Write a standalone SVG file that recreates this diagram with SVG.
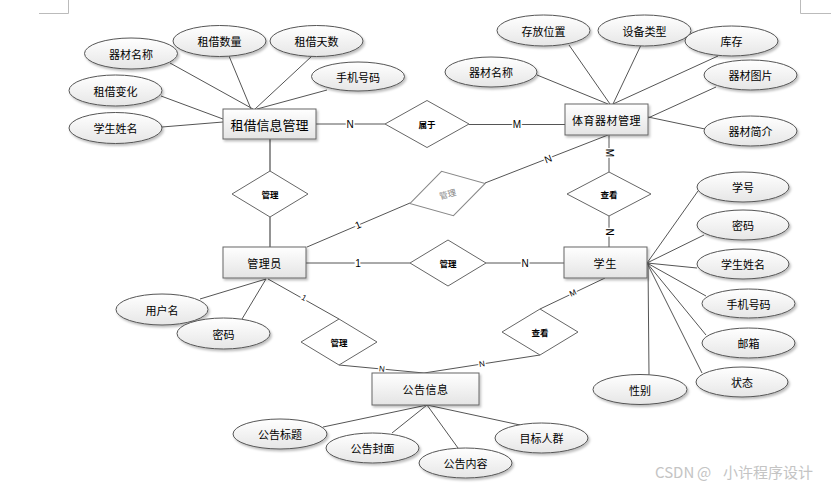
<svg xmlns="http://www.w3.org/2000/svg" width="831" height="487" viewBox="0 0 831 487">
<defs>
<linearGradient id="gRect" x1="0" y1="0" x2="0" y2="1"><stop offset="0" stop-color="#ffffff"/><stop offset="1" stop-color="#e4e4e4"/></linearGradient>
<linearGradient id="gEll" x1="0" y1="0" x2="0" y2="1"><stop offset="0" stop-color="#ffffff"/><stop offset="1" stop-color="#e6e6e6"/></linearGradient>
<filter id="sh" x="-20%" y="-30%" width="140%" height="170%"><feDropShadow dx="1.5" dy="2" stdDeviation="1" flood-color="#000" flood-opacity="0.25"/></filter>
</defs>
<style>
text{font-family:"Noto Sans CJK SC","Liberation Sans",sans-serif;dominant-baseline:central;text-anchor:middle;fill:#000}
.ent rect{fill:url(#gRect);stroke:#666;stroke-width:1;filter:url(#sh)}
.ent text{font-size:11px}
.att ellipse{fill:url(#gEll);stroke:#555;stroke-width:1;filter:url(#sh)}
.att text{font-size:11px}
.rel polygon{fill:#fff;stroke:#666;stroke-width:1}
.rel text{font-size:8.5px;font-weight:bold}
.ln line{stroke:#555;stroke-width:1}
.ln line.thick{stroke:#888;stroke-width:1.8}
.lbl{font-family:"Liberation Sans",sans-serif;font-size:10px;stroke:#fff;stroke-width:3;paint-order:stroke;fill:#000}
.corner{stroke:#bbb;stroke-width:1;fill:none}
</style>
<rect width="831" height="487" fill="#fff"/>
<path class="corner" d="M68.5,0 V13.5 H39"/>
<path class="corner" d="M800.5,0 V13.5 H831"/>
<g id="connectors" class="ln">
<line x1="170" y1="63" x2="253" y2="109"/>
<line x1="229" y1="56" x2="251" y2="109"/>
<line x1="312" y1="56" x2="255" y2="109"/>
<line x1="327" y1="90" x2="257" y2="109"/>
<line x1="161" y1="96" x2="223" y2="119"/>
<line x1="162" y1="127" x2="223" y2="122"/>
<line x1="537" y1="75" x2="608" y2="104"/>
<line x1="569" y1="45" x2="610" y2="104"/>
<line x1="641" y1="45" x2="613" y2="104"/>
<line x1="718" y1="56" x2="613" y2="104"/>
<line x1="716" y1="87" x2="648" y2="118"/>
<line x1="705" y1="129" x2="648" y2="117"/>
<line x1="316" y1="124" x2="385" y2="124"/>
<line x1="469" y1="124.5" x2="565" y2="124.5"/>
<line class="thick" x1="270" y1="139" x2="270" y2="171"/>
<line class="thick" x1="270" y1="217" x2="270" y2="247"/>
<line x1="307" y1="247" x2="410" y2="203"/>
<line x1="485" y1="183" x2="608" y2="135"/>
<line x1="306" y1="263" x2="410" y2="263"/>
<line x1="486" y1="263" x2="564" y2="263"/>
<line x1="609" y1="135" x2="609" y2="172"/>
<line x1="609" y1="216" x2="609" y2="247"/>
<line x1="268" y1="279" x2="339" y2="319"/>
<line x1="339" y1="365" x2="424" y2="373"/>
<line x1="605" y1="278" x2="540" y2="309"/>
<line x1="540" y1="355" x2="424" y2="373"/>
<line x1="200" y1="299" x2="266" y2="279"/>
<line x1="242" y1="319" x2="266" y2="279"/>
<line x1="647" y1="263" x2="698" y2="191"/>
<line x1="647" y1="263" x2="704" y2="235"/>
<line x1="647" y1="263" x2="697" y2="268"/>
<line x1="647" y1="263" x2="706" y2="296"/>
<line x1="647" y1="263" x2="706" y2="335"/>
<line x1="647" y1="263" x2="702" y2="373"/>
<line x1="648" y1="263" x2="649" y2="375"/>
<line x1="427" y1="405" x2="323" y2="427"/>
<line x1="427" y1="405" x2="392" y2="433"/>
<line x1="427" y1="405" x2="458" y2="448"/>
<line x1="427" y1="405" x2="520" y2="425"/>
<text class="lbl" x="350" y="124">N</text>
<text class="lbl" x="517" y="124.5">M</text>
<text class="lbl" transform="translate(358,225) rotate(-23)">1</text>
<text class="lbl" transform="translate(548,159) rotate(-21)">N</text>
<text class="lbl" x="358" y="263">1</text>
<text class="lbl" x="525" y="263">N</text>
<text class="lbl" transform="translate(609,153) rotate(90)">M</text>
<text class="lbl" transform="translate(609,232) rotate(90)">N</text>
<text class="lbl" style="font-size:8px" transform="translate(304,298) rotate(29)">1</text>
<text class="lbl" style="font-size:8px" transform="translate(382,369) rotate(6)">N</text>
<text class="lbl" style="font-size:8px" transform="translate(573,293) rotate(-25)">M</text>
<text class="lbl" style="font-size:8px" transform="translate(482,364) rotate(-9)">N</text>
</g>
<g id="rel-shuyu" class="rel"><polygon points="385,124 427,100.5 469,124 427,147.5"/><text x="427" y="124">属于</text></g>
<g id="rel-guanli1" class="rel"><polygon points="232,194 270,171 308,194 270,217"/><text x="270" y="194">管理</text></g>
<g id="rel-guanli2" class="rel" transform="translate(447.5,193.5) rotate(-15)"><polygon points="-39,0 0,-23 39,0 0,23" style="stroke:#888"/><text x="0" y="0" style="fill:#888;font-weight:normal">管理</text></g>
<g id="rel-guanli3" class="rel"><polygon points="410,263 448,240 486,263 448,286"/><text x="448" y="263">管理</text></g>
<g id="rel-chakan1" class="rel"><polygon points="567,194 609,172 651,194 609,216"/><text x="609" y="194">查看</text></g>
<g id="rel-guanli4" class="rel"><polygon points="301,342 339,319 377,342 339,365"/><text x="339" y="342">管理</text></g>
<g id="rel-chakan2" class="rel"><polygon points="502,332 540,309 578,332 540,355"/><text x="540" y="332">查看</text></g>
<g id="ent-zujie" class="ent"><rect x="223" y="109" width="93" height="30"/><text x="269.5" y="124" style="font-size:13px">租借信息管理</text></g>
<g id="ent-qicai" class="ent"><rect x="565" y="104" width="83" height="31"/><text x="606.5" y="119.5" style="letter-spacing:0.5px">体育器材管理</text></g>
<g id="ent-admin" class="ent"><rect x="223" y="247" width="83" height="31"/><text x="264.5" y="262.5" style="letter-spacing:0.5px">管理员</text></g>
<g id="ent-student" class="ent"><rect x="564" y="247" width="83" height="31"/><text x="605.5" y="262.5" style="letter-spacing:1px">学生</text></g>
<g id="ent-notice" class="ent"><rect x="372" y="373" width="107" height="32"/><text x="425.5" y="389" style="letter-spacing:0.5px">公告信息</text></g>
<g id="a1" class="att"><ellipse cx="131" cy="53.5" rx="46.5" ry="15.5"/><text x="131" y="53.5">器材名称</text></g>
<g id="a2" class="att"><ellipse cx="219.5" cy="41" rx="46.5" ry="15.5"/><text x="219.5" y="41">租借数量</text></g>
<g id="a3" class="att"><ellipse cx="316.5" cy="41" rx="46.5" ry="15.5"/><text x="316.5" y="41">租借天数</text></g>
<g id="a4" class="att"><ellipse cx="358" cy="76.5" rx="46.5" ry="14.5"/><text x="358" y="76.5">手机号码</text></g>
<g id="a5" class="att"><ellipse cx="115.5" cy="90.5" rx="46.5" ry="15.5"/><text x="115.5" y="90.5">租借变化</text></g>
<g id="a6" class="att"><ellipse cx="115.5" cy="128" rx="46.5" ry="15.5"/><text x="115.5" y="128">学生姓名</text></g>
<g id="a7" class="att"><ellipse cx="543.5" cy="30.5" rx="46.5" ry="15.5"/><text x="543.5" y="30.5">存放位置</text></g>
<g id="a8" class="att"><ellipse cx="644.5" cy="30.5" rx="46.5" ry="15.5"/><text x="644.5" y="30.5">设备类型</text></g>
<g id="a9" class="att"><ellipse cx="731.5" cy="41" rx="46.5" ry="15"/><text x="731.5" y="41">库存</text></g>
<g id="a10" class="att"><ellipse cx="491" cy="72" rx="46" ry="15"/><text x="491" y="72">器材名称</text></g>
<g id="a11" class="att"><ellipse cx="750.5" cy="75" rx="46.5" ry="15"/><text x="750.5" y="75">器材图片</text></g>
<g id="a12" class="att"><ellipse cx="750.5" cy="131" rx="46.5" ry="15"/><text x="750.5" y="131">器材简介</text></g>
<g id="a13" class="att"><ellipse cx="162" cy="309.5" rx="46" ry="15.5"/><text x="162" y="309.5">用户名</text></g>
<g id="a14" class="att"><ellipse cx="223.5" cy="333.5" rx="46.5" ry="15.5"/><text x="223.5" y="333.5">密码</text></g>
<g id="a15" class="att"><ellipse cx="743" cy="187" rx="46" ry="15"/><text x="743" y="187">学号</text></g>
<g id="a16" class="att"><ellipse cx="743" cy="225" rx="46" ry="15"/><text x="743" y="225">密码</text></g>
<g id="a17" class="att"><ellipse cx="743" cy="264" rx="46" ry="15"/><text x="743" y="264">学生姓名</text></g>
<g id="a18" class="att"><ellipse cx="748.5" cy="303.5" rx="46.5" ry="14.5"/><text x="748.5" y="303.5">手机号码</text></g>
<g id="a19" class="att"><ellipse cx="748.5" cy="343" rx="46.5" ry="15"/><text x="748.5" y="343">邮箱</text></g>
<g id="a20" class="att"><ellipse cx="742" cy="382" rx="46" ry="15"/><text x="742" y="382">状态</text></g>
<g id="a21" class="att"><ellipse cx="640" cy="389.5" rx="47" ry="15"/><text x="640" y="389.5">性别</text></g>
<g id="a22" class="att"><ellipse cx="280" cy="434" rx="47" ry="15"/><text x="280" y="434">公告标题</text></g>
<g id="a23" class="att"><ellipse cx="372.5" cy="448" rx="46.5" ry="15"/><text x="372.5" y="448">公告封面</text></g>
<g id="a24" class="att"><ellipse cx="465.5" cy="463" rx="46.5" ry="15"/><text x="465.5" y="463">公告内容</text></g>
<g id="a25" class="att"><ellipse cx="541.5" cy="438" rx="46.5" ry="15"/><text x="541.5" y="438">目标人群</text></g>
<text x="655" y="471" style="text-anchor:start;font-size:15px;fill:#c4c4c4">CSDN<tspan x="697">@</tspan><tspan x="723">小许程序设计</tspan></text>
</svg>
